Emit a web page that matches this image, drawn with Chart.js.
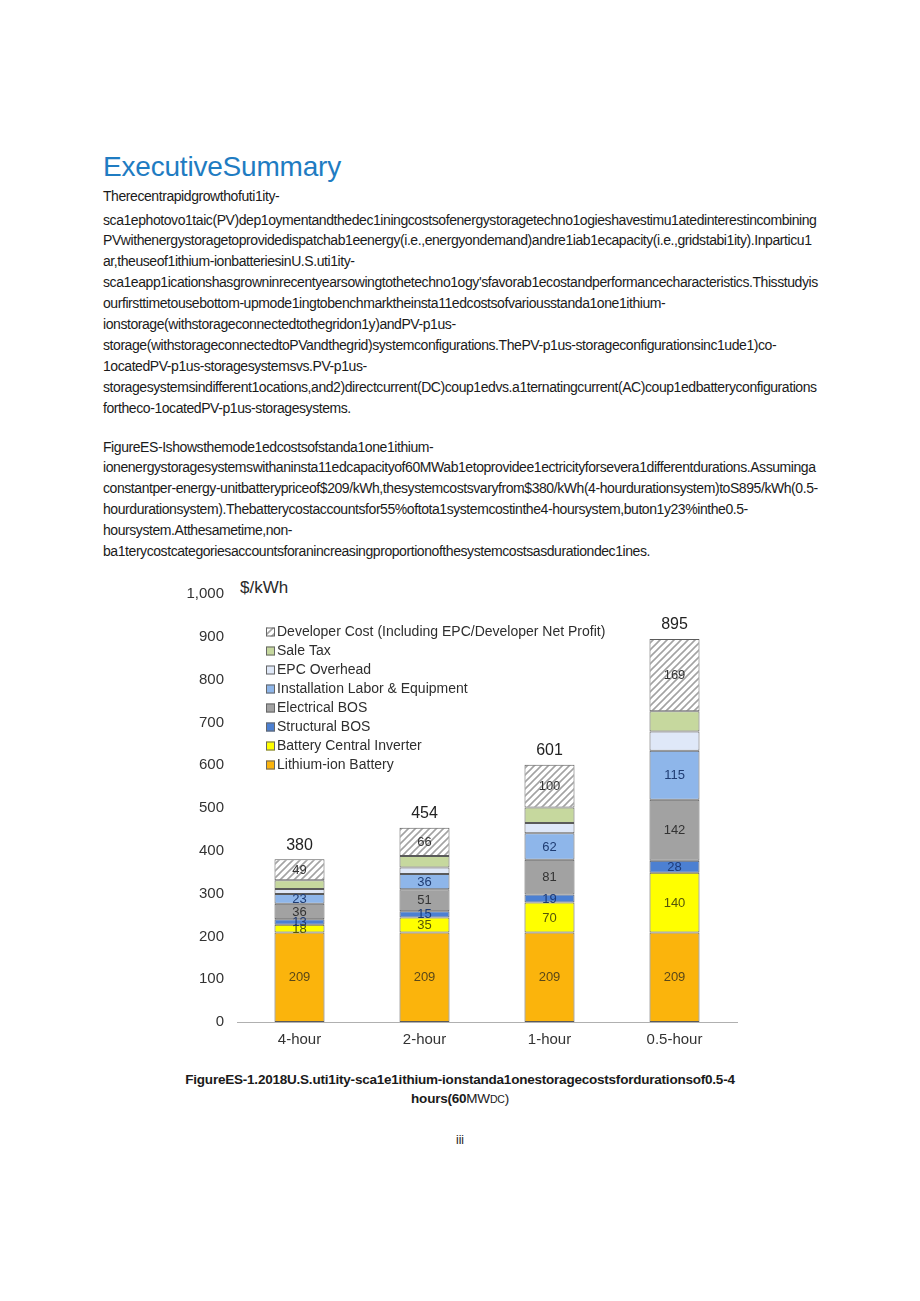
<!DOCTYPE html>
<html>
<head>
<meta charset="utf-8">
<script src="https://cdn.jsdelivr.net/npm/chart.js@4.4.1/dist/chart.umd.min.js"></script>
<style>
  html, body { margin: 0; padding: 0; background: #fff; }
  body { width: 920px; height: 1301px; position: relative; overflow: hidden;
         font-family: "Liberation Sans", Arial, sans-serif; color: #1a1a1a; }
  .abs { position: absolute; white-space: nowrap; }
  h1 { position: absolute; left: 103px; top: 150px; margin: 0; font-weight: normal;
       font-size: 28px; line-height: 34px; color: #1f7cc2; letter-spacing: -0.2px; }
  .txt { left: 103px; font-size: 14px; line-height: 20.9px; letter-spacing: -0.43px; }
  .cap { left: 0; width: 920px; text-align: center; font-size: 13.5px; font-weight: bold;
         line-height: 19px; letter-spacing: -0.22px; }
  .cap .n { font-weight: normal; }
  .cap .sc { font-weight: normal; font-size: 10.5px; }
  #unit { left: 240px; top: 578px; font-size: 17px; color: #2a2a2a; }
  #wrap { position: absolute; left: 175px; top: 572px; width: 570px; height: 475px; }
</style>
</head>
<body>
<h1>ExecutiveSummary</h1>

<div class="abs txt" style="top:186px">Therecentrapidgrowthofuti1ity-</div>
<div class="abs txt" style="top:209.5px">sca1ephotovo1taic(PV)dep1oymentandthedec1iningcostsofenergystoragetechno1ogieshavestimu1atedinterestincombining<br>PVwithenergystoragetoprovidedispatchab1eenergy(i.e.,energyondemand)andre1iab1ecapacity(i.e.,gridstabi1ity).Inparticu1<br>ar,theuseof1ithium-ionbatteriesinU.S.uti1ity-<br>sca1eapp1icationshasgrowninrecentyearsowingtothetechno1ogy'sfavorab1ecostandperformancecharacteristics.Thisstudyis<br>ourfirsttimetousebottom-upmode1ingtobenchmarktheinsta11edcostsofvariousstanda1one1ithium-<br>ionstorage(withstorageconnectedtothegridon1y)andPV-p1us-<br>storage(withstorageconnectedtoPVandthegrid)systemconfigurations.ThePV-p1us-storageconfigurationsinc1ude1)co-<br>1ocatedPV-p1us-storagesystemsvs.PV-p1us-<br>storagesystemsindifferent1ocations,and2)directcurrent(DC)coup1edvs.a1ternatingcurrent(AC)coup1edbatteryconfigurations<br>fortheco-1ocatedPV-p1us-storagesystems.</div>

<div class="abs txt" style="top:436.5px">FigureES-Ishowsthemode1edcostsofstanda1one1ithium-<br>ionenergystoragesystemswithaninsta11edcapacityof60MWab1etoprovidee1ectricityforsevera1differentdurations.Assuminga<br>constantper-energy-unitbatterypriceof$209/kWh,thesystemcostsvaryfrom$380/kWh(4-hourdurationsystem)toS895/kWh(0.5-<br>hourdurationsystem).Thebatterycostaccountsfor55%oftota1systemcostinthe4-hoursystem,buton1y23%inthe0.5-<br>hoursystem.Atthesametime,non-<br>ba1terycostcategoriesaccountsforanincreasingproportionofthesystemcostsasdurationdec1ines.</div>

<div class="abs" id="unit">$/kWh</div>
<div id="wrap"><canvas id="chart" width="570" height="475"></canvas></div>

<div class="abs cap" style="top:1069.5px">FigureES-1.2018U.S.uti1ity-sca1e1ithium-ionstanda1onestoragecostsfordurationsof0.5-4<br>hours(60<span class="n">MW</span><span class="sc">DC</span><span class="n">)</span></div>

<div class="abs" style="left:0;width:920px;text-align:center;top:1133px;font-size:12px;">iii</div>

<script>
// ── Dados ────────────────────────────────────────────────────
const categories        = ['4-hour', '2-hour', '1-hour', '0.5-hour'];
const lithiumBattery    = [209, 209, 209, 209];
const centralInverter   = [18, 35, 70, 140];
const structuralBos     = [13, 15, 19, 28];
const electricalBos     = [36, 51, 81, 142];
const installationLabor = [23, 36, 62, 115];
const epcOverhead       = [12, 15, 24, 45];
const saleTax           = [20, 27, 36, 47];
const developerCost     = [49, 66, 100, 169];
const totals            = [380, 454, 601, 895];
const yMax  = 1000;
const yStep = 100;

// hachura diagonal do "Developer Cost"
function makeHatch() {
    const c = document.createElement('canvas');
    c.width = 7; c.height = 7;
    const g = c.getContext('2d');
    g.fillStyle = '#ffffff';
    g.fillRect(0, 0, 7, 7);
    g.strokeStyle = '#a3a3a3';
    g.lineWidth = 1.6;
    g.beginPath();
    g.moveTo(-1, 8); g.lineTo(8, -1);
    g.moveTo(-4.5, 4.5); g.lineTo(4.5, -4.5);
    g.moveTo(2.5, 11.5); g.lineTo(11.5, 2.5);
    g.stroke();
    return g.createPattern(c, 'repeat');
}

const FONT = '"Liberation Sans", Arial, sans-serif';

// show: mostra o valor dentro do segmento? text: cor do texto
const series = [
    { label: 'Lithium-ion Battery',             data: lithiumBattery,    color: '#fbb40c', text: '#5a4818', show: true },
    { label: 'Battery Central Inverter',        data: centralInverter,   color: '#ffff00', text: '#55550a', show: true },
    { label: 'Structural BOS',                  data: structuralBos,     color: '#4c80d2', text: '#1c3a78', show: true },
    { label: 'Electrical BOS',                  data: electricalBos,     color: '#a2a2a2', text: '#333333', show: true },
    { label: 'Installation Labor & Equipment',  data: installationLabor, color: '#8eb6ea', text: '#1f3c72', show: true },
    { label: 'EPC Overhead',                    data: epcOverhead,       color: '#dfe8f8', text: '#333333', show: false },
    { label: 'Sale Tax',                        data: saleTax,           color: '#c6d89e', text: '#333333', show: false },
    { label: 'Developer Cost (Including EPC/Developer Net Profit)', data: developerCost, color: makeHatch(), text: '#333333', show: true },
];

// ── Plugins ──────────────────────────────────────────────────
const valueLabels = {
    id: 'valueLabels',
    afterDatasetsDraw(chart) {
        const ctx = chart.ctx;
        ctx.save();
        ctx.textAlign = 'center';
        ctx.textBaseline = 'middle';
        ctx.font = '13px ' + FONT;
        chart.data.datasets.forEach((ds, i) => {
            if (!series[i].show) return;
            chart.getDatasetMeta(i).data.forEach((bar, j) => {
                ctx.fillStyle = series[i].text;
                ctx.fillText(ds.data[j], bar.x, (bar.y + bar.base) / 2 + 0.5);
            });
        });
        // totais no topo
        const top = chart.getDatasetMeta(chart.data.datasets.length - 1).data;
        ctx.font = '16px ' + FONT;
        ctx.fillStyle = '#222';
        top.forEach((bar, j) => ctx.fillText(totals[j], bar.x, bar.y - 14));
        ctx.restore();
    }
};

const insideLegend = {
    id: 'insideLegend',
    afterDraw(chart) {
        const ctx = chart.ctx;
        const x0 = 266 - 175, y0 = 632 - 572, step = 19;
        ctx.save();
        ctx.font = '14px ' + FONT;
        ctx.textBaseline = 'middle';
        const list = chart.data.datasets.slice().reverse();
        list.forEach((ds, k) => {
            const y = y0 + k * step;
            ctx.fillStyle = ds.backgroundColor;
            ctx.fillRect(x0, y - 4.5, 9, 9);
            ctx.strokeStyle = '#666';
            ctx.lineWidth = 1;
            ctx.strokeRect(x0 + 0.5, y - 4, 8, 8);
            ctx.fillStyle = '#2e2e2e';
            ctx.fillText(ds.label, x0 + 11, y + 0.5);
        });
        ctx.restore();
    }
};

new Chart(document.getElementById('chart'), {
    type: 'bar',
    data: {
        labels: categories,
        datasets: series.map(s => ({
            label: s.label,
            data: s.data,
            backgroundColor: s.color,
            borderColor: '#5a5a5a',
            borderWidth: 1,
            borderSkipped: false,
            barPercentage: 0.4,
            categoryPercentage: 1,
        })),
    },
    options: {
        responsive: false,
        animation: false,
        devicePixelRatio: 1,
        layout: { padding: { top: 18, right: 8, left: 0, bottom: 0 } },
        plugins: { legend: { display: false }, tooltip: { enabled: false } },
        scales: {
            x: {
                stacked: true,
                grid: { display: false, drawTicks: false },
                border: { display: true, color: '#b0b0b0', dash: [1, 2], width: 1 },
                ticks: { font: { size: 15, family: FONT }, color: '#333', padding: 9 },
                afterFit: s => { s.height = 25; },
            },
            y: {
                stacked: true,
                min: 0, max: yMax,
                grid: { display: false, drawTicks: false },
                border: { display: false },
                ticks: {
                    stepSize: yStep,
                    font: { size: 15, family: FONT }, color: '#333', padding: 13,
                    callback: v => v.toLocaleString('en-US'),
                },
                afterFit: s => { s.width = 62; },
            },
        },
    },
    plugins: [valueLabels, insideLegend],
});
</script>
</body>
</html>
